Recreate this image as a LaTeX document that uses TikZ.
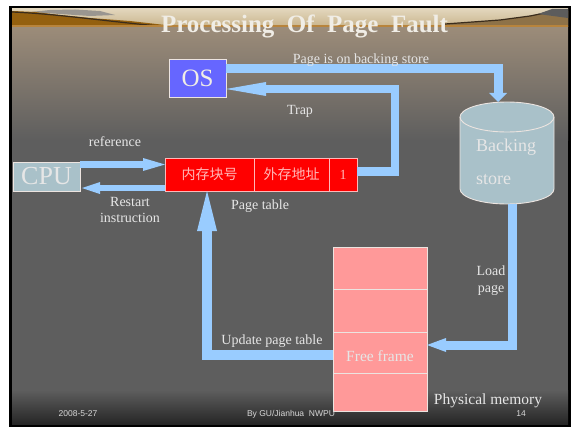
\documentclass[tikz,border=0pt]{standalone}
\usepackage{fontspec}
\setmainfont{Liberation Serif}
\newfontfamily\cjk{Noto Sans CJK SC}
\newfontfamily\footfont{Liberation Sans}
\usetikzlibrary{arrows.meta,calc}
\definecolor{arrowc}{HTML}{99CCFF}
\definecolor{bgmid}{HTML}{5E5E5E}
\definecolor{bgdark}{HTML}{262626}
\definecolor{tanc}{HTML}{9C8C79}
\definecolor{labelc}{HTML}{E6E6E6}
\definecolor{titlec}{HTML}{F0EDE6}
\definecolor{osfill}{HTML}{6666FF}
\definecolor{cylc}{HTML}{A9C1C9}
\definecolor{memfill}{HTML}{FF9999}
\definecolor{ptfill}{HTML}{FF0000}
\definecolor{pttext}{HTML}{FFB8B8}
\definecolor{edgec}{HTML}{ECE4E0}
\definecolor{skytop}{HTML}{E2D6BC}
\definecolor{skybot}{HTML}{C9B48C}
\definecolor{hillbrown}{HTML}{94600F}
\definecolor{hillbrowntwo}{HTML}{8E7248}
\definecolor{darkline}{HTML}{3A2C1C}
\definecolor{stripc}{HTML}{B8843C}
\definecolor{mountc}{HTML}{5C5C5C}
\definecolor{cloudc}{HTML}{9A9690}
\begin{document}
\begin{tikzpicture}[x=1pt,y=-1pt,
  box/.style={draw=edgec, line width=0.9pt, inner sep=0pt, outer sep=0pt},
  osbox/.style={box, fill=osfill, minimum width=57pt, minimum height=38pt, text=titlec, font=\fontsize{25}{25}\selectfont},
  cpubox/.style={box, fill=cylc, minimum width=67pt, minimum height=29pt, text=labelc, font=\fontsize{26}{26}\selectfont},
  ptcell/.style={box, draw=pttext, fill=ptfill, minimum height=33pt, text=pttext, font=\cjk\fontsize{14}{14}\selectfont},
  memcell/.style={box, fill=memfill, minimum width=94pt},
  lbl/.style={text=labelc, font=\fontsize{14}{16.5}\selectfont, inner sep=0pt, align=center},
  biglbl/.style={text=labelc, font=\fontsize{15.5}{16}\selectfont, inner sep=0pt},
  bigline/.style={draw=arrowc, line width=9pt},
  medline/.style={draw=arrowc, line width=6.5pt},
  foot/.style={text=labelc!85!gray, font=\footfont\fontsize{8.5}{9}\selectfont, inner sep=0pt}
]
\useasboundingbox (0,0) rectangle (571,428);
% slide background
\fill[white] (0,0) rectangle (571,428);
\fill[black] (9,6) rectangle (571,427);
\fill[bgmid] (12,9) rectangle (568,424);
\shade[top color=tanc, bottom color=bgmid] (12,27) rectangle (568,140);
\shade[top color=bgmid, bottom color=bgdark] (12,390) rectangle (568,424);
% banner
\shade[top color=skytop, bottom color=skybot] (12,9) rectangle (568,27);
\fill[cloudc] (30,12) -- (50,10) -- (75,9.5) -- (100,11) -- (115,15) -- (90,16) -- (60,14) -- cycle;
\fill[hillbrown] (12,11) -- (35,12) -- (60,15) -- (90,18) -- (130,21) -- (165,25) -- (165,27) -- (12,27) -- cycle;
\draw[darkline, line width=1.2pt] (12,12) .. controls (60,14) and (110,22) .. (165,26.5);
\fill[hillbrowntwo] (445,27) -- (445,24) -- (500,20) -- (530,16) -- (550,12) -- (568,11) -- (568,27) -- cycle;
\draw[darkline, line width=1.2pt] (445,24) -- (500,20) -- (530,16) -- (550,12) -- (568,11);
\fill[mountc] (538,14) -- (552,9) -- (568,9) -- (568,18) -- cycle;
\fill[stripc] (12,25.5) rectangle (568,27.5);
% title
\node[font=\bfseries\fontsize{25}{25}\selectfont, text=titlec, anchor=base, inner sep=0pt] (title) at (304.5,33) {Processing\ \ Of\ \ Page\ \ Fault};
% boxes
\node[osbox] (os) at (197.5,78) {OS};
\node[cpubox] (cpu) at (46.5,176.5) {CPU};
\node[ptcell, minimum width=89pt] (c1) at (209.5,174.5) {内存块号};
\node[ptcell, minimum width=75pt] (c2) at (291.5,174.5) {外存地址};
\node[ptcell, minimum width=28pt, font=\fontsize{14}{14}\selectfont] (c3) at (343,174.5) {1};
\node[memcell, minimum height=42pt] (m1) at (380,268) {};
\node[memcell, minimum height=43pt] (m2) at (380,310.5) {};
\node[memcell, minimum height=41pt] (m3) at (380,352.5) {};
\node[memcell, minimum height=38pt] (m4) at (380,392) {};
\node[biglbl, anchor=base] (ff) at (380,361.5) {Free frame};
% backing store cylinder
\node[inner sep=0pt, outer sep=0pt, minimum width=94pt, minimum height=102pt] (bs) at (507,153) {};
\fill[cylc] (460,117) -- (460,189) arc[start angle=180, end angle=360, x radius=47pt, y radius=15pt] -- (554,117) arc[start angle=0, end angle=180, x radius=47pt, y radius=15pt] -- cycle;
\draw[edgec, line width=0.9pt] (460,117) -- (460,189) arc[start angle=180, end angle=360, x radius=47pt, y radius=15pt] -- (554,117) arc[start angle=0, end angle=180, x radius=47pt, y radius=15pt] -- cycle;
\draw[edgec, line width=0.9pt] (460,117) arc[start angle=180, end angle=360, x radius=47pt, y radius=15pt];
\node[text=labelc, font=\fontsize{18}{18}\selectfont, inner sep=0pt, anchor=base west] (bk1) at (476,151) {Backing};
\node[text=labelc, font=\fontsize{18}{18}\selectfont, inner sep=0pt, anchor=base west] (bk2) at (476,184) {store};
% connectors
\draw[bigline, -{Triangle[length=9pt,width=18pt,line width=0pt]}] ($(os.north east)+(0,9.5)$) -| ($(bs.north)+(-9,0)$);
\draw[bigline, line width=8.5pt, -{Triangle[length=40pt,width=14pt,line width=0pt]}] ($(c3.east)+(0,-3)$) -- ++(38,0) |- ($(os.east)+(0,11)$);
\draw[medline, -{Triangle[length=22pt,width=13pt,line width=0pt]}] ($(cpu.east)+(0,-12)$) -- ($(c1.west)+(0,-10)$);
\draw[medline, -{Triangle[length=18pt,width=12pt,line width=0pt]}] ($(c1.west)+(0,13.5)$) -- ($(cpu.east)+(2,11.5)$);
\draw[bigline, line width=10pt, -{Triangle[length=40pt,width=20pt,line width=0pt]}] ($(m3.west)+(0,2.5)$) -| ($(c1.south)+(-2.5,0)$);
\draw[bigline, -{Triangle[length=19pt,width=14pt,line width=0pt]}] ($(bs.south)+(5,0)$) |- ($(m3.east)+(0,-7.5)$);
% labels
\node[lbl, anchor=base] (l1) at (361,63.5) {Page is on backing store};
\node[lbl] (l2) at (300,111) {Trap};
\node[lbl] (l3) at (115,142) {reference};
\node[lbl] (l4) at (130,210) {Restart\\instruction};
\node[lbl] (l5) at (260,206) {Page table};
\node[lbl] (l6) at (272,341) {Update page table};
\node[lbl] (l7) at (491,280.5) {Load\\page};
\node[biglbl] (l8) at (488,401) {Physical memory};
% footer
\node[foot] (f1) at (78,414) {2008-5-27};
\node[foot] (f2) at (291,414) {By GU/Jianhua\ \ NWPU};
\node[foot] (f3) at (521,414) {14};
\end{tikzpicture}
\end{document}
